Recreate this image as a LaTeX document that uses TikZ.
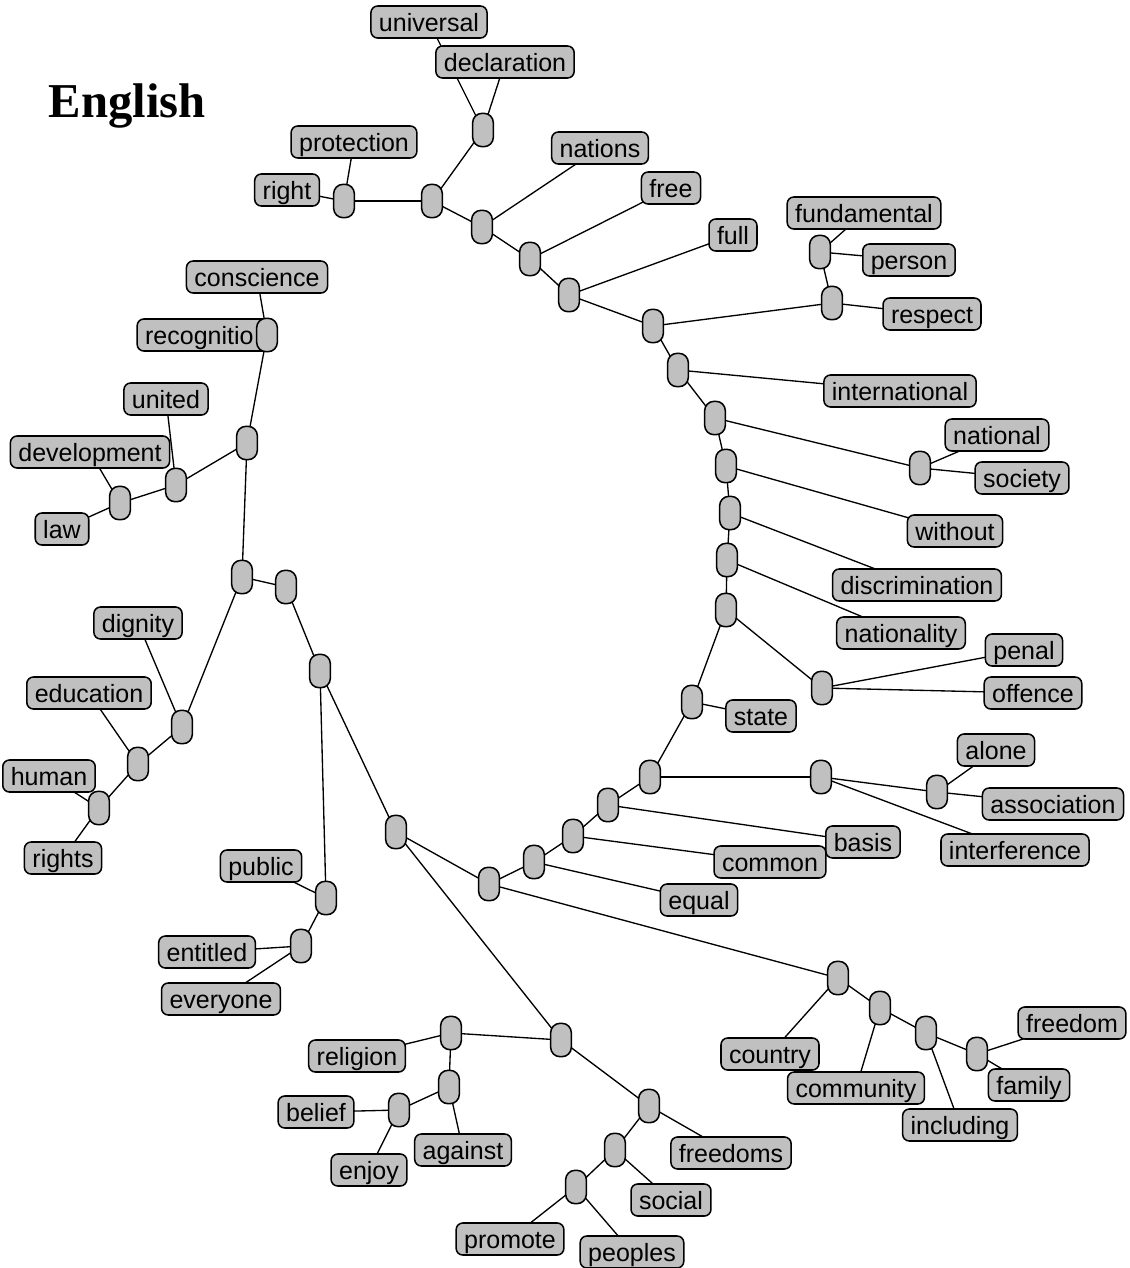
\documentclass[tikz,border=0pt]{standalone}
\usepackage{fontspec}
\newfontfamily\wordfont{Liberation Sans}
\newfontfamily\titlefont{Liberation Serif}
\usetikzlibrary{backgrounds}
\definecolor{boxgray}{RGB}{192,192,192}
\begin{document}
\begin{tikzpicture}[x=0.75pt,y=-0.75pt,
  word/.style={draw=black, line width=1.15pt, fill=boxgray, rounded corners=5pt,
    inner xsep=6pt, inner ysep=0pt, minimum height=24pt, text height=14pt, text depth=0pt,
    font=\wordfont\fontsize{18.75pt}{20pt}\selectfont},
  junc/.style={draw=black, line width=1.15pt, fill=boxgray, rounded corners=7pt,
    minimum width=15.5pt, minimum height=25pt, inner sep=0pt},
  link/.style={line width=1pt, black}]
\useasboundingbox (0,0) rectangle (1130,1268);

\node[anchor=base west, font=\titlefont\bfseries\fontsize{36.5pt}{40pt}\selectfont] (title) at (44,117) {English};

% word boxes
\node[word] (universal) at (429,22) {universal};
\node[word] (declaration) at (505,62) {declaration};
\node[word] (protection) at (354,142) {protection};
\node[word] (right) at (287,190) {right};
\node[word] (nations) at (600,148) {nations};
\node[word] (free) at (671,188) {free};
\node[word] (full) at (733,235) {full};
\node[word] (fundamental) at (864,213) {fundamental};
\node[word] (person) at (909,260) {person};
\node[word] (respect) at (932,314) {respect};
\node[word] (international) at (900,391) {international};
\node[word] (national) at (997,435) {national};
\node[word] (society) at (1022,478) {society};
\node[word] (without) at (955,531) {without};
\node[word] (discrimination) at (917,585) {discrimination};
\node[word] (nationality) at (901,633) {nationality};
\node[word] (penal) at (1024,650) {penal};
\node[word] (offence) at (1033,693) {offence};
\node[word] (state) at (761,716) {state};
\node[word] (alone) at (996,750) {alone};
\node[word] (association) at (1053,804) {association};
\node[word] (interference) at (1015,850) {interference};
\node[word] (basis) at (863,842) {basis};
\node[word] (common) at (770,862) {common};
\node[word] (equal) at (699,900) {equal};
\node[word] (freedom) at (1072,1023) {freedom};
\node[word] (family) at (1029,1085) {family};
\node[word] (country) at (770,1054) {country};
\node[word] (community) at (856,1088) {community};
\node[word] (including) at (960,1125) {including};
\node[word] (freedoms) at (731,1153) {freedoms};
\node[word] (social) at (671,1200) {social};
\node[word] (peoples) at (632,1252) {peoples};
\node[word] (promote) at (510,1239) {promote};
\node[word] (against) at (463,1150) {against};
\node[word] (enjoy) at (369,1170) {enjoy};
\node[word] (belief) at (316,1112) {belief};
\node[word] (religion) at (357,1056) {religion};
\node[word] (public) at (261,866) {public};
\node[word] (entitled) at (207,952) {entitled};
\node[word] (everyone) at (221,999) {everyone};
\node[word] (rights) at (63,858) {rights};
\node[word] (human) at (49,776) {human};
\node[word] (education) at (89,693) {education};
\node[word] (dignity) at (138,623) {dignity};
\node[word] (law) at (62,529) {law};
\node[word] (development) at (90,452) {development};
\node[word] (united) at (166,399) {united};
\node[word, text width=92pt, align=left] (recognitio) at (206.5,335) {recognitio};
\node[word] (conscience) at (257,277) {conscience};

% junctions
\node[junc] (jdecl) at (483,130) {};
\node[junc] (jprot) at (344,201) {};
\node[junc] (ja) at (432,201) {};
\node[junc] (jnations) at (482,227) {};
\node[junc] (jfree) at (530,259) {};
\node[junc] (jfull) at (569,295) {};
\node[junc] (jresm) at (653,326) {};
\node[junc] (jres) at (832,303) {};
\node[junc] (jfund) at (820,252) {};
\node[junc] (jintl) at (678,370) {};
\node[junc] (jns) at (715,418) {};
\node[junc] (jnsoc) at (920,468) {};
\node[junc] (jwo) at (726,466) {};
\node[junc] (jdisc) at (730,513) {};
\node[junc] (jnaty) at (727,560) {};
\node[junc] (jpenm) at (726,610) {};
\node[junc] (jpen) at (822,688) {};
\node[junc] (jstate) at (692,702) {};
\node[junc] (jassm) at (650,777) {};
\node[junc] (jassmid) at (821,777) {};
\node[junc] (jalone) at (937,792) {};
\node[junc] (jbasis) at (608,805) {};
\node[junc] (jcommon) at (573,836) {};
\node[junc] (jequal) at (534,862) {};
\node[junc] (jcm) at (489,884) {};
\node[junc] (jcountry) at (838,978) {};
\node[junc] (jcommunity) at (880,1008) {};
\node[junc] (jincl) at (926,1033) {};
\node[junc] (jfreedom) at (977,1054) {};
\node[junc] (jmd) at (396,832) {};
\node[junc] (jfm) at (561,1040) {};
\node[junc] (jfreedoms) at (649,1106) {};
\node[junc] (jsocial) at (615,1150) {};
\node[junc] (jpromote) at (576,1187) {};
\node[junc] (jreligion) at (451,1033) {};
\node[junc] (jagainst) at (449,1087) {};
\node[junc] (jbelief) at (399,1110) {};
\node[junc] (jpm) at (320,671) {};
\node[junc] (jpublic) at (326,898) {};
\node[junc] (jentitled) at (301,946) {};
\node[junc] (jtl) at (286,587) {};
\node[junc] (jleft) at (242,577) {};
\node[junc] (jdignity) at (182,727) {};
\node[junc] (jeducation) at (138,764) {};
\node[junc] (jhuman) at (99,808) {};
\node[junc] (jum) at (247,443) {};
\node[junc] (jrecog) at (267,335) {};
\node[junc] (junited) at (176,485) {};
\node[junc] (jdev) at (120,503) {};

\begin{pgfonlayer}{background}
\fill[white] (0,0) rectangle (1130,1268);
\draw[link] (jdecl.center) -- (universal.center);
\draw[link] (jdecl.center) -- (declaration.center);
\draw[link] (jprot.center) -- (protection.center);
\draw[link] (jprot.center) -- (right.center);
\draw[link] (jprot.center) -- (ja.center);
\draw[link] (ja.center) -- (jdecl.center);
\draw[link] (ja.center) -- (jnations.center);
\draw[link] (jnations.center) -- (nations.center);
\draw[link] (jnations.center) -- (jfree.center);
\draw[link] (jfree.center) -- (free.center);
\draw[link] (jfree.center) -- (jfull.center);
\draw[link] (jfull.center) -- (full.center);
\draw[link] (jfull.center) -- (jresm.center);
\draw[link] (jresm.center) -- (jres.center);
\draw[link] (jres.center) -- (respect.center);
\draw[link] (jres.center) -- (jfund.center);
\draw[link] (jfund.center) -- (fundamental.center);
\draw[link] (jfund.center) -- (person.center);
\draw[link] (jresm.center) -- (jintl.center);
\draw[link] (jintl.center) -- (international.center);
\draw[link] (jintl.center) -- (jns.center);
\draw[link] (jns.center) -- (jnsoc.center);
\draw[link] (jnsoc.center) -- (national.center);
\draw[link] (jnsoc.center) -- (society.center);
\draw[link] (jns.center) -- (jwo.center);
\draw[link] (jwo.center) -- (without.center);
\draw[link] (jwo.center) -- (jdisc.center);
\draw[link] (jdisc.center) -- (discrimination.center);
\draw[link] (jdisc.center) -- (jnaty.center);
\draw[link] (jnaty.center) -- (nationality.center);
\draw[link] (jnaty.center) -- (jpenm.center);
\draw[link] (jpenm.center) -- (jpen.center);
\draw[link] (jpen.center) -- (penal.center);
\draw[link] (jpen.center) -- (offence.center);
\draw[link] (jpenm.center) -- (jstate.center);
\draw[link] (jstate.center) -- (state.center);
\draw[link] (jstate.center) -- (jassm.center);
\draw[link] (jassm.center) -- (jassmid.center);
\draw[link] (jassmid.center) -- (jalone.center);
\draw[link] (jalone.center) -- (alone.center);
\draw[link] (jalone.center) -- (association.center);
\draw[link] (jassmid.center) -- (interference.center);
\draw[link] (jassm.center) -- (jbasis.center);
\draw[link] (jbasis.center) -- (basis.center);
\draw[link] (jbasis.center) -- (jcommon.center);
\draw[link] (jcommon.center) -- (common.center);
\draw[link] (jcommon.center) -- (jequal.center);
\draw[link] (jequal.center) -- (equal.center);
\draw[link] (jequal.center) -- (jcm.center);
\draw[link] (jcm.center) -- (jcountry.center);
\draw[link] (jcountry.center) -- (country.center);
\draw[link] (jcountry.center) -- (jcommunity.center);
\draw[link] (jcommunity.center) -- (community.center);
\draw[link] (jcommunity.center) -- (jincl.center);
\draw[link] (jincl.center) -- (including.center);
\draw[link] (jincl.center) -- (jfreedom.center);
\draw[link] (jfreedom.center) -- (freedom.center);
\draw[link] (jfreedom.center) -- (family.center);
\draw[link] (jcm.center) -- (jmd.center);
\draw[link] (jmd.center) -- (jfm.center);
\draw[link] (jfm.center) -- (jreligion.center);
\draw[link] (jreligion.center) -- (religion.center);
\draw[link] (jreligion.center) -- (jagainst.center);
\draw[link] (jagainst.center) -- (against.center);
\draw[link] (jagainst.center) -- (jbelief.center);
\draw[link] (jbelief.center) -- (belief.center);
\draw[link] (jbelief.center) -- (enjoy.center);
\draw[link] (jfm.center) -- (jfreedoms.center);
\draw[link] (jfreedoms.center) -- (freedoms.center);
\draw[link] (jfreedoms.center) -- (jsocial.center);
\draw[link] (jsocial.center) -- (social.center);
\draw[link] (jsocial.center) -- (jpromote.center);
\draw[link] (jpromote.center) -- (promote.center);
\draw[link] (jpromote.center) -- (peoples.center);
\draw[link] (jmd.center) -- (jpm.center);
\draw[link] (jpm.center) -- (jpublic.center);
\draw[link] (jpublic.center) -- (public.center);
\draw[link] (jpublic.center) -- (jentitled.center);
\draw[link] (jentitled.center) -- (entitled.center);
\draw[link] (jentitled.center) -- (everyone.center);
\draw[link] (jpm.center) -- (jtl.center);
\draw[link] (jtl.center) -- (jleft.center);
\draw[link] (jleft.center) -- (jdignity.center);
\draw[link] (jdignity.center) -- (dignity.center);
\draw[link] (jdignity.center) -- (jeducation.center);
\draw[link] (jeducation.center) -- (education.center);
\draw[link] (jeducation.center) -- (jhuman.center);
\draw[link] (jhuman.center) -- (human.center);
\draw[link] (jhuman.center) -- (rights.center);
\draw[link] (jleft.center) -- (jum.center);
\draw[link] (jum.center) -- (jrecog.center);
\draw[link] (jrecog.center) -- (recognitio.center);
\draw[link] (jrecog.center) -- (conscience.center);
\draw[link] (jum.center) -- (junited.center);
\draw[link] (junited.center) -- (united.center);
\draw[link] (junited.center) -- (jdev.center);
\draw[link] (jdev.center) -- (development.center);
\draw[link] (jdev.center) -- (law.center);
\end{pgfonlayer}
\end{tikzpicture}
\end{document}
